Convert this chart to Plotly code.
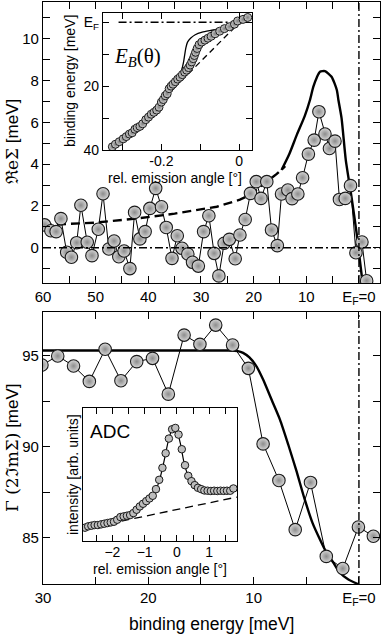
import plotly.graph_objects as go

# ---- data: upper panel, Re Sigma vs binding energy ----
re_E = [59.7, 58.5, 57.5, 56.6, 55.5, 54.6, 53.6, 52.8, 51.6, 50.7, 49.5, 48.6, 47.5, 46.5,
        45.6, 44.6, 43.5, 42.6, 41.6, 40.6, 39.7, 38.6, 37.5, 36.6, 35.5, 34.5, 33.6, 32.5,
        31.6, 30.5, 29.5, 28.5, 27.5, 26.6, 25.6, 24.6, 23.5, 22.6, 21.6, 20.6, 19.5, 18.6,
        17.5, 16.6, 15.5, 14.7, 13.5, 12.7, 11.6, 10.7, 9.6, 8.5, 7.6, 6.45, 5.6, 4.55,
        3.7, 2.6, 1.6, 0.57, -0.57, -1.46]
re_S = [1.09, 0.81, 0.77, 1.39, -0.22, -0.46, 0.24, 2.03, 0.26, -0.38, 0.88, 2.58, -0.06, 0.32,
        -0.43, -0.16, -1.0, 1.69, 0.42, 0.77, 1.88, 2.84, 1.96, 0.97, -0.51, 0.57, -0.03, -0.30,
        -0.70, -0.88, 0.77, 1.53, -0.27, -1.35, 0.21, 0.40, -0.53, 0.61, 1.35, 2.6, 3.16, 2.36,
        3.16, 0.85, 0.10, 2.57, 2.76, 2.35, 2.57, 3.35, 4.48, 5.15, 6.51, 5.44, 4.75, 5.1,
        2.31, 2.36, 2.97, -0.24, 0.27, -1.58]

# model, dashed (bare part) and solid (with coupling)
re_dash_E = [60, 50, 42, 35, 27, 22.6, 20.7, 18.8, 15.6, 14.0]
re_dash_S = [1.08, 1.2, 1.4, 1.63, 1.96, 2.3, 2.52, 2.92, 3.53, 3.9]
re_fit_E = [14.7, 13.2, 11.8, 10.3, 9.3, 8.67, 8.0, 7.4, 6.45, 5.2, 4.2, 3.9, 3.3, 2.5, 1.4,
            0.44, -0.32, -0.8]
re_fit_S = [3.72, 4.5, 5.4, 6.3, 7.07, 7.7, 8.15, 8.42, 8.45, 8.18, 7.55, 7.07, 6.2, 4.2, 2.4,
            0.7, -0.9, -1.9]

# ---- data: lower panel, Gamma vs binding energy ----
gam_E = [30.1, 28.6, 27.1, 25.6, 24.1, 22.6, 21.1, 19.6, 18.1, 16.6, 15.1, 13.6, 12.0, 10.5,
         9.1, 7.6, 6.05, 4.6, 3.1, 1.53, 0.05, -1.37]
gam_G = [94.5, 95.0, 94.45, 93.6, 95.37, 93.64, 94.69, 94.87, 92.9, 96.15, 95.64, 96.7, 95.6,
         94.32, 90.16, 88.15, 85.44, 88.04, 83.97, 83.3, 85.59, 85.08]
gam_fit_E = [30, 12.5, 11.5, 11.0, 10.4, 9.7, 9.1, 8.3, 7.5, 6.7, 5.95, 5.2, 4.4, 3.7, 3.1,
             2.4, 1.85, 1.0, 0.1]
gam_fit_G = [95.3, 95.3, 95.27, 95.17, 94.92, 94.4, 93.7, 92.6, 91.5, 90.1, 88.7, 87.2, 85.8,
             84.9, 84.2, 83.6, 83.1, 82.7, 82.45]

# ---- inset 1: E_B(theta) ----
eb_ang = [-0.326, -0.318, -0.308, -0.298, -0.290, -0.282, -0.275, -0.268, -0.262, -0.255,
          -0.248, -0.240, -0.233, -0.226, -0.219, -0.212, -0.206, -0.200, -0.195, -0.190,
          -0.185, -0.180, -0.175, -0.170, -0.164, -0.158, -0.152, -0.146, -0.140, -0.135,
          -0.130, -0.126, -0.122, -0.118, -0.115, -0.112, -0.108, -0.103, -0.096, -0.088,
          -0.080, -0.072, -0.062, -0.050, -0.038, -0.025, -0.012, -0.004, 0.010, 0.022]
eb_E = [39.0, 38.2, 37.4, 36.5, 35.8, 35.0, 34.6, 33.5, 33.0, 32.6,
        31.8, 30.5, 29.7, 28.8, 28.2, 27.5, 26.6, 25.0, 24.2, 23.0,
        22.4, 20.8, 20.0, 19.4, 18.6, 17.8, 17.2, 16.4, 15.6, 15.0,
        14.2, 13.4, 12.4, 11.4, 10.4, 9.4, 8.2, 7.0, 6.2, 5.6,
        5.0, 4.4, 3.6, 2.8, 2.0, 1.4, 0.6, -0.4, -0.9, -1.5]
eb_fit_ang = [-0.33, -0.30, -0.27, -0.24, -0.21, -0.18, -0.165, -0.155, -0.148, -0.143, -0.140,
              -0.137, -0.133, -0.125, -0.113, -0.095, -0.07, -0.04, -0.01, 0.01, 0.03]
eb_fit_E = [39.5, 37.0, 34.0, 30.8, 27.5, 21.5, 18.8, 16.8, 15.0, 12.5, 10.2,
            8.0, 6.3, 5.0, 3.9, 3.1, 2.5, 1.8, 1.0, 0.0, -1.8]
eb_bare_ang = [-0.33, 0.0]
eb_bare_E = [40.5, 0.2]
eb_ef_ang = [-0.31, 0.0]

# ---- inset 2: ADC ----
adc_ang = [-2.85, -2.75, -2.65, -2.55, -2.45, -2.35, -2.25, -2.15, -2.05, -1.95, -1.85, -1.75,
           -1.65, -1.55, -1.45, -1.35, -1.25, -1.15, -1.05, -0.95, -0.85, -0.75, -0.65, -0.55,
           -0.45, -0.35, -0.25, -0.15, -0.05, 0.05, 0.15, 0.25, 0.35, 0.45, 0.55, 0.65, 0.75,
           0.85, 0.95, 1.05, 1.15, 1.25, 1.35, 1.45, 1.55, 1.65, 1.75]
adc_I = [0.10, 0.11, 0.115, 0.12, 0.12, 0.125, 0.13, 0.135, 0.14, 0.145, 0.16, 0.18,
         0.185, 0.19, 0.195, 0.21, 0.235, 0.26, 0.28, 0.30, 0.32, 0.34, 0.39, 0.46,
         0.55, 0.66, 0.77, 0.84, 0.85, 0.80, 0.69, 0.57, 0.49, 0.45, 0.42, 0.40, 0.39,
         0.38, 0.378, 0.376, 0.378, 0.376, 0.378, 0.377, 0.378, 0.378, 0.395]
adc_fit_ang = [-2.9, -2.4, -2.0, -1.6, -1.2, -0.9, -0.7, -0.55, -0.4, -0.25, -0.12, -0.02,
               0.1, 0.22, 0.35, 0.5, 0.7, 1.0, 1.4, 1.85]
adc_fit_I = [0.10, 0.12, 0.14, 0.18, 0.24, 0.31, 0.36, 0.45, 0.60, 0.77, 0.85, 0.84,
             0.74, 0.59, 0.49, 0.43, 0.39, 0.378, 0.377, 0.38]
adc_bg_ang = [-2.9, 1.85]
adc_bg_I = [0.09, 0.33]

SANS = "Liberation Sans, Arial, sans-serif"
SERIF = "Liberation Serif, DejaVu Serif, serif"
W, H = 382, 636
L, R, T, B = 43, 2, 2, 52


def pxx(p):
    return (p - L) / (W - L - R)


def pyy(p):
    return (H - B - p) / (H - T - B)


marker_big = dict(symbol="circle", size=12.5, color="#d6d6d6",
                  gradient=dict(type="radial", color="#8c8c8c"),
                  line=dict(color="#1a1a1a", width=1.1))
marker_small = dict(symbol="circle", size=8, color="#d0d0d0",
                    gradient=dict(type="radial", color="#808080"),
                    line=dict(color="#1a1a1a", width=1.0))

fig = go.Figure()

# upper panel
fig.add_trace(go.Scatter(x=re_dash_E, y=re_dash_S, mode="lines", xaxis="x", yaxis="y",
                         line=dict(color="black", width=2.4, dash="9px,5px"), showlegend=False))
fig.add_trace(go.Scatter(x=re_fit_E, y=re_fit_S, mode="lines", xaxis="x", yaxis="y",
                         line=dict(color="black", width=2.4, shape="spline", smoothing=0.6),
                         showlegend=False))
fig.add_trace(go.Scatter(x=re_E, y=re_S, mode="lines+markers", xaxis="x", yaxis="y",
                         line=dict(color="black", width=1), marker=marker_big, showlegend=False))

# lower panel
fig.add_trace(go.Scatter(x=gam_fit_E, y=gam_fit_G, mode="lines", xaxis="x2", yaxis="y2",
                         line=dict(color="black", width=2.4, shape="spline", smoothing=0.6),
                         showlegend=False))
fig.add_trace(go.Scatter(x=gam_E, y=gam_G, mode="lines+markers", xaxis="x2", yaxis="y2",
                         line=dict(color="black", width=1), marker=marker_big, showlegend=False))

# inset 1
fig.add_trace(go.Scatter(x=eb_ef_ang, y=[0, 0], mode="lines", xaxis="x3", yaxis="y3",
                         line=dict(color="black", width=1.4, dash="8px,3px,2px,3px"),
                         showlegend=False))
fig.add_trace(go.Scatter(x=eb_bare_ang, y=eb_bare_E, mode="lines", xaxis="x3", yaxis="y3",
                         line=dict(color="black", width=1.3, dash="6px,4px"), showlegend=False))
fig.add_trace(go.Scatter(x=eb_fit_ang, y=eb_fit_E, mode="lines", xaxis="x3", yaxis="y3",
                         line=dict(color="black", width=1.3, shape="spline", smoothing=0.6),
                         showlegend=False))
fig.add_trace(go.Scatter(x=eb_ang, y=eb_E, mode="markers", xaxis="x3", yaxis="y3",
                         marker=marker_small, showlegend=False))

# inset 2
fig.add_trace(go.Scatter(x=adc_bg_ang, y=adc_bg_I, mode="lines", xaxis="x4", yaxis="y4",
                         line=dict(color="black", width=1.3, dash="8px,5px"), showlegend=False))
fig.add_trace(go.Scatter(x=adc_fit_ang, y=adc_fit_I, mode="lines", xaxis="x4", yaxis="y4",
                         line=dict(color="black", width=1.2, shape="spline", smoothing=0.7),
                         showlegend=False))
fig.add_trace(go.Scatter(x=adc_ang, y=adc_I, mode="markers", xaxis="x4", yaxis="y4",
                         marker=dict(symbol="circle", size=7.5, color="#bdbdbd",
                                     line=dict(color="#1a1a1a", width=1.0)), showlegend=False))

tickfont = dict(family=SANS, size=15, color="black")
small_tf = dict(family=SANS, size=14, color="black")
axbase = dict(showline=True, linecolor="black", linewidth=1.2, mirror="allticks",
              ticks="inside", ticklen=7, tickwidth=1.1, tickcolor="black",
              showgrid=False, zeroline=False)


def minor(vals, ln=7):
    return dict(tickmode="array", tickvals=vals, ticks="inside", ticklen=ln,
                tickwidth=1.1, tickcolor="black")


ef_lbl = "E<sub>F</sub>=0"
fig.update_layout(
    width=W, height=H, margin=dict(l=L, r=R, t=T, b=B),
    plot_bgcolor="white", paper_bgcolor="white",
    font=dict(family=SANS, color="black"),
    xaxis=dict(axbase, domain=[0, 1], anchor="y", range=[60, -4.0], tickfont=tickfont,
               tickmode="array", tickvals=[60, 50, 40, 30, 20, 10, 0],
               ticktext=["60", "50", "40", "30", "20", "10", ef_lbl],
               minor=minor([55, 45, 35, 25, 15, 5])),
    yaxis=dict(axbase, domain=[pyy(283), 1], anchor="x", range=[-1.69, 11.76],
               tickfont=tickfont, tickmode="array", tickvals=[0, 2, 4, 6, 8, 10],
               minor=minor([-1, 1, 3, 5, 7, 9, 11])),
    xaxis2=dict(axbase, domain=[0, 1], anchor="y2", range=[30.0, -2.0], tickfont=tickfont,
                tickmode="array", tickvals=[30, 20, 10, 0],
                ticktext=["30", "20", "10", ef_lbl],
                minor=minor([25, 15, 5])),
    yaxis2=dict(axbase, domain=[0, pyy(312)], anchor="x2", range=[82.45, 97.42],
                tickfont=tickfont, tickmode="array", tickvals=[85, 90, 95],
                minor=minor([82.5, 87.5, 92.5, 97.5])),
    xaxis3=dict(axbase, domain=[pxx(103), pxx(252)], anchor="y3", range=[-0.35, 0.033],
                tickfont=small_tf, tickmode="array", tickvals=[-0.2, 0],
                ticktext=["-0.2", "0"], ticklen=6, ticklabelstandoff=-2,
                minor=minor([-0.3, -0.1], 6)),
    yaxis3=dict(axbase, domain=[pyy(150), pyy(13)], anchor="x3", range=[40, -2.9],
                tickfont=small_tf, tickmode="array", tickvals=[0, 20, 40],
                ticktext=["E<sub>F</sub>", "20", "40"], ticklen=6,
                minor=minor([10, 30], 6)),
    xaxis4=dict(axbase, domain=[pxx(83), pxx(237)], anchor="y4", range=[-2.91, 1.86],
                tickfont=small_tf, tickmode="array", tickvals=[-2, -1, 0, 1], ticklen=6,
                ticklabelstandoff=-2,
                minor=minor([-2.5, -1.5, -0.5, 0.5, 1.5], 6)),
    yaxis4=dict(axbase, domain=[pyy(541), pyy(408)], anchor="x4", range=[0, 1],
                ticks="", showticklabels=False),
)

# Fermi level reference lines
dashdot = dict(color="black", width=1.4, dash="8px,3px,2px,3px")
fig.add_shape(type="line", xref="x", yref="y domain", x0=0, x1=0, y0=0, y1=1, line=dashdot)
fig.add_shape(type="line", xref="x domain", yref="y", x0=0, x1=1, y0=0, y1=0, line=dashdot)
fig.add_shape(type="line", xref="x2", yref="y2 domain", x0=0, x1=0, y0=0, y1=1, line=dashdot)

ann = []
ann.append(dict(x=pxx(12), y=pyy(142), textangle=-90,
                text="<span style='font-family:DejaVu Serif'>ℜeΣ</span> [meV]",
                font=dict(family=SANS, size=17)))
ann.append(dict(x=pxx(12), y=pyy(448), textangle=-90,
                text="<span style='font-family:DejaVu Serif'>Γ (2ℑmΣ)</span> [meV]",
                font=dict(family=SANS, size=17)))
ann.append(dict(x=pxx(211), y=pyy(624), text="binding energy [meV]",
                font=dict(family=SANS, size=17.5)))
ann.append(dict(x=pxx(70), y=pyy(81), textangle=-90, text="binding energy [meV]",
                font=dict(family=SANS, size=14)))
ann.append(dict(x=pxx(175), y=pyy(178), text="rel. emission angle [°]",
                font=dict(family=SANS, size=14)))
ann.append(dict(x=pxx(73), y=pyy(475), textangle=-90, text="intensity [arb. units]",
                font=dict(family=SANS, size=14)))
ann.append(dict(x=pxx(160), y=pyy(569), text="rel. emission angle [°]",
                font=dict(family=SANS, size=14)))
ann.append(dict(x=pxx(137), y=pyy(57), text="<i>E<sub>B</sub></i>(θ)",
                font=dict(family=SERIF, size=21)))
ann.append(dict(x=pxx(110), y=pyy(431), text="ADC", font=dict(family=SANS, size=19)))
for a in ann:
    a.update(xref="paper", yref="paper", showarrow=False, xanchor="center", yanchor="middle")
fig.update_layout(annotations=ann)

# page margin off so the figure sits at the window's corner
fig.write_html("out.html", config={"displayModeBar": False},
               post_script="document.body.style.margin='0px';")
